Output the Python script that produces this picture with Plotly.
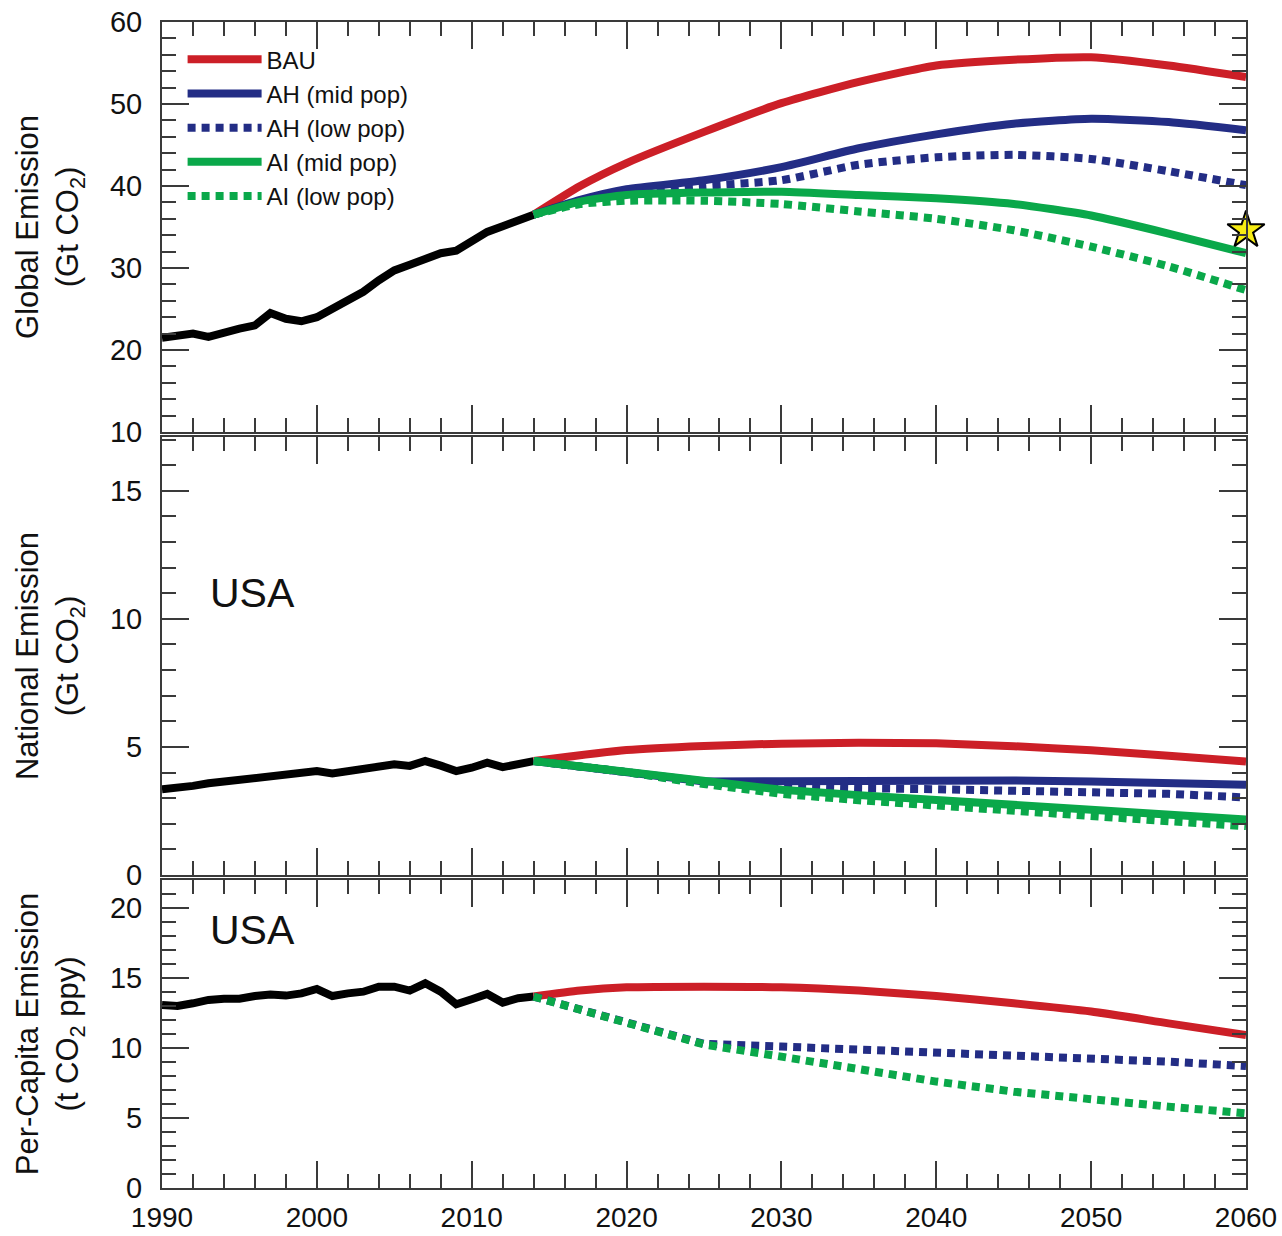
import plotly.graph_objects as go

# ---------------- data ----------------
hist_years = list(range(1990, 2015))
global_hist = [21.5, 21.8, 22.0, 21.6, 22.2, 22.6, 23.0, 24.5, 23.8, 23.5, 24.0, 25.1, 26.0,
               27.1, 28.5, 29.7, 30.4, 31.2, 31.8, 32.1, 33.2, 34.4, 35.1, 35.9, 36.5]
usa_hist = [3.35, 3.38, 3.48, 3.58, 3.65, 3.68, 3.77, 3.84, 3.87, 3.95, 4.06, 3.97, 4.07,
            4.17, 4.28, 4.32, 4.26, 4.45, 4.27, 4.06, 4.19, 4.39, 4.21, 4.34, 4.45]
usa_pc_hist = [13.07, 13.0, 13.19, 13.43, 13.52, 13.52, 13.71, 13.81, 13.74, 13.90, 14.21, 13.71,
               13.90, 14.02, 14.38, 14.38, 14.10, 14.62, 14.02, 13.12, 13.48, 13.86, 13.24, 13.55, 13.67]

glob_years = [2014, 2017, 2020, 2025, 2030, 2035, 2040, 2045, 2050, 2055, 2060]
glob_bau = [36.5, 40.0, 42.8, 46.6, 50.1, 52.7, 54.7, 55.4, 55.7, 54.7, 53.3]
glob_ah_mid = [36.5, 38.3, 39.6, 40.7, 42.3, 44.6, 46.3, 47.6, 48.2, 47.8, 46.8]
glob_ah_low = [36.5, 38.2, 39.2, 40.0, 40.7, 42.6, 43.5, 43.8, 43.3, 41.8, 40.1]
glob_ai_mid = [36.5, 38.1, 38.9, 39.2, 39.3, 38.9, 38.5, 37.8, 36.4, 34.2, 31.8]
glob_ai_low = [36.5, 37.8, 38.2, 38.2, 37.8, 36.9, 36.0, 34.6, 32.6, 30.2, 27.3]
star_year = [2060]
star_value = [34.6]

nat_years = [2014, 2020, 2025, 2030, 2035, 2040, 2045, 2050, 2055, 2060]
nat_bau = [4.45, 4.88, 5.04, 5.13, 5.16, 5.14, 5.03, 4.87, 4.66, 4.43]
nat_ah_mid = [4.45, 4.04, 3.65, 3.66, 3.69, 3.71, 3.69, 3.65, 3.60, 3.52]
nat_ah_low = [4.45, 4.02, 3.58, 3.45, 3.39, 3.35, 3.31, 3.26, 3.17, 3.03]
nat_ai_mid = [4.45, 4.04, 3.62, 3.33, 3.12, 2.93, 2.74, 2.55, 2.36, 2.17]
nat_ai_low = [4.45, 4.02, 3.55, 3.17, 2.92, 2.70, 2.50, 2.30, 2.10, 1.91]

pc_years = [2014, 2017, 2020, 2025, 2030, 2035, 2040, 2045, 2050, 2055, 2060]
pc_bau = [13.67, 14.1, 14.33, 14.38, 14.33, 14.1, 13.71, 13.19, 12.6, 11.76, 10.93]
pc_ah_low = [13.67, 12.71, 11.76, 10.29, 10.1, 9.9, 9.67, 9.45, 9.26, 9.02, 8.71]
pc_ai_low = [13.67, 12.71, 11.76, 10.25, 9.38, 8.43, 7.6, 6.88, 6.29, 5.81, 5.33]

x_tickvals = [1990, 2000, 2010, 2020, 2030, 2040, 2050, 2060]

# ---------------- styles ----------------
RED = "#cc1f27"
BLUE = "#232d85"
GREEN = "#0aa84a"
LW = 8
DOT = "8px,6px"
FONT = "Liberation Sans, Arial, Helvetica, sans-serif"
AX = "#3a3a3a"

fig = go.Figure()

def add(x, y, color, dash, name, xa, ya, legend=False, shape="linear"):
    fig.add_trace(go.Scatter(
        x=x, y=y, mode="lines", name=name, showlegend=legend,
        line=dict(color=color, width=LW, dash=dash, shape=shape, smoothing=0.6),
        xaxis=xa, yaxis=ya, hoverinfo="skip"))

# top panel (x3 / y3)
add(hist_years, global_hist, "black", "solid", "hist", "x3", "y3")
add(glob_years, glob_bau, RED, "solid", "BAU", "x3", "y3", True, "spline")
add(glob_years, glob_ah_mid, BLUE, "solid", "AH (mid pop)", "x3", "y3", True, "spline")
add(glob_years, glob_ah_low, BLUE, DOT, "AH (low pop)", "x3", "y3", True, "spline")
add(glob_years, glob_ai_mid, GREEN, "solid", "AI (mid pop)", "x3", "y3", True, "spline")
add(glob_years, glob_ai_low, GREEN, DOT, "AI (low pop)", "x3", "y3", True, "spline")
fig.add_trace(go.Scatter(x=star_year, y=star_value, mode="markers", showlegend=False,
                         marker=dict(symbol="star", size=28, color="#f7ec13",
                                     line=dict(color="black", width=2)),
                         cliponaxis=False, xaxis="x3", yaxis="y3", hoverinfo="skip"))

# middle panel (x2 / y2)
add(hist_years, usa_hist, "black", "solid", "hist", "x2", "y2")
add(nat_years, nat_bau, RED, "solid", "BAU", "x2", "y2", False, "spline")
add(nat_years, nat_ah_mid, BLUE, "solid", "AH (mid pop)", "x2", "y2")
add(nat_years, nat_ah_low, BLUE, DOT, "AH (low pop)", "x2", "y2")
add(nat_years, nat_ai_mid, GREEN, "solid", "AI (mid pop)", "x2", "y2")
add(nat_years, nat_ai_low, GREEN, DOT, "AI (low pop)", "x2", "y2")

# bottom panel (x / y)
add(hist_years, usa_pc_hist, "black", "solid", "hist", "x", "y")
add(pc_years, pc_bau, RED, "solid", "BAU", "x", "y", False, "spline")
add(pc_years, pc_ah_low, BLUE, DOT, "AH (low pop)", "x", "y")
add(pc_years, pc_ai_low, GREEN, DOT, "AI (low pop)", "x", "y")

tickfont = dict(family=FONT, size=29, color="#111")
xtickfont = dict(family=FONT, size=28, color="#111")
titlefont = dict(family=FONT, size=31, color="#111")

def xax(anchor, labels):
    return dict(range=[1990, 2060], anchor=anchor, tickvals=x_tickvals, automargin=False,
                showticklabels=labels, ticks="inside", ticklen=27, tickwidth=1.5,
                tickcolor=AX, showline=True, linecolor=AX, linewidth=2, mirror="ticks",
                showgrid=False, zeroline=False, tickfont=xtickfont, ticklabelstandoff=3,
                minor=dict(ticks="inside", ticklen=14, tickwidth=1.5, tickcolor=AX, dtick=2,
                           tick0=1990, showgrid=False))

def yax(rng, dom, minor, title, tickvals):
    return dict(range=rng, domain=dom, tickvals=tickvals, ticks="inside", ticklen=27,
                automargin=False,
                tickwidth=1.5, tickcolor=AX, showline=True, linecolor=AX, linewidth=2,
                mirror="ticks", showgrid=False, zeroline=False, tickfont=tickfont,
                ticklabelstandoff=12,
                title=dict(text=title, font=titlefont, standoff=22),
                minor=dict(ticks="inside", ticklen=14, tickwidth=1.5, tickcolor=AX,
                           dtick=minor, tick0=0, showgrid=False))

fig.update_layout(
    width=1282, height=1236,
    margin=dict(l=162, r=36, t=22, b=48, autoexpand=False),
    paper_bgcolor="white", plot_bgcolor="white",
    font=dict(family=FONT, color="#111"),
    xaxis=xax("y", True),
    xaxis2=dict(xax("y2", False), matches="x"),
    xaxis3=dict(xax("y3", False), matches="x"),
    yaxis=yax([0, 22], [0, 0.2642], 1, "Per-Capita Emission<br>(t CO<sub>2</sub> ppy)", [0, 5, 10, 15, 20]),
    yaxis2=yax([0, 17.1], [0.2684, 0.6441], 1, "National Emission<br>(Gt CO<sub>2</sub>)", [0, 5, 10, 15]),
    yaxis3=yax([10, 60], [0.6484, 1.0], 2, "Global Emission<br>(Gt CO<sub>2</sub>)", [10, 20, 30, 40, 50, 60]),
    legend=dict(x=0.019, y=0.987, xanchor="left", yanchor="top", bgcolor="rgba(0,0,0,0)",
                font=dict(family=FONT, size=24, color="#111"), itemwidth=74,
                tracegroupgap=0, traceorder="normal"),
    annotations=[
        dict(text="USA", x=1993.0, y=11.0, xref="x2", yref="y2", xanchor="left",
             yanchor="middle", showarrow=False, font=dict(family=FONT, size=41, color="#111")),
        dict(text="USA", x=1993.0, y=18.4, xref="x", yref="y", xanchor="left",
             yanchor="middle", showarrow=False, font=dict(family=FONT, size=41, color="#111")),
    ],
)

fig.write_html("out.html", config={"displayModeBar": False},
               post_script="document.body.style.margin='0px';document.body.style.overflow='hidden';")
